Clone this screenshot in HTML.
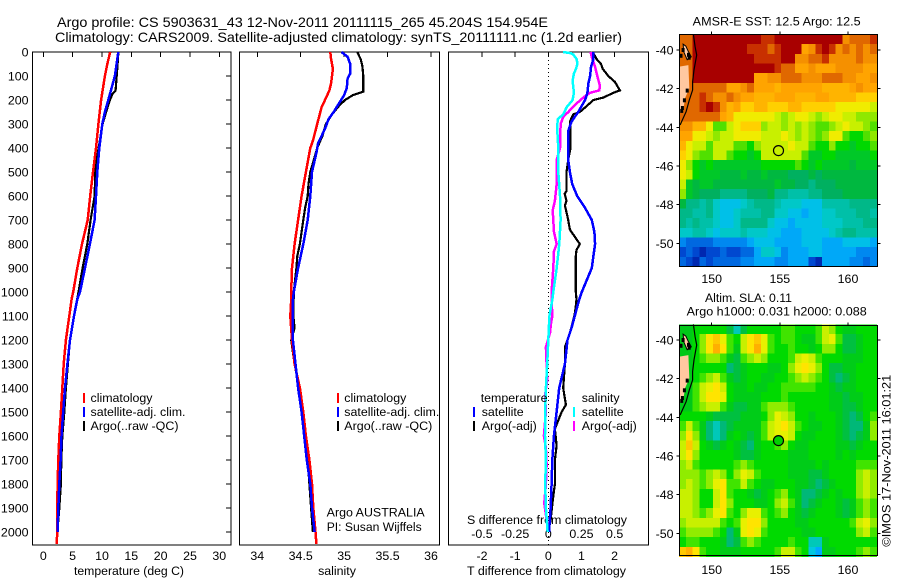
<!DOCTYPE html>
<html>
<head>
<meta charset="utf-8">
<title>Argo profile chart</title>
<style>
html,body{margin:0;padding:0;background:#fff;width:900px;height:580px;overflow:hidden}
svg{display:block}
text{font-family:"Liberation Sans",sans-serif;font-size:12.4px;fill:#000}
.ttl{font-size:14px}
.crisp{shape-rendering:crispEdges}
</style>
</head>
<body>
<svg id="chart" width="900" height="580" viewBox="0 0 900 580" xmlns="http://www.w3.org/2000/svg">
  <text class="ttl" x="57" y="27" textLength="491" lengthAdjust="spacingAndGlyphs">Argo profile: CS 5903631_43 12-Nov-2011 20111115_265 45.204S 154.954E</text>
  <text class="ttl" x="55" y="42" textLength="567" lengthAdjust="spacingAndGlyphs">Climatology: CARS2009. Satellite-adjusted climatology: synTS_20111111.nc (1.2d earlier)</text>
  <text x="74" y="575" textLength="110" lengthAdjust="spacingAndGlyphs">temperature (deg C)</text>
  <text x="337" y="575" text-anchor="middle">salinity</text>
  <text x="467" y="575" textLength="159" lengthAdjust="spacingAndGlyphs">T difference from climatology</text>
  <text x="467" y="524" textLength="160" lengthAdjust="spacingAndGlyphs">S difference from climatology</text>
  <text x="692.7" y="25.5" textLength="168" lengthAdjust="spacingAndGlyphs">AMSR-E SST: 12.5 Argo: 12.5</text>
  <text x="705" y="302" textLength="87" lengthAdjust="spacingAndGlyphs">Altim. SLA: 0.11</text>
  <text x="686.7" y="315.5" textLength="180" lengthAdjust="spacingAndGlyphs">Argo h1000: 0.031 h2000: 0.088</text>
  <text transform="translate(890.5 546.7) rotate(-90)" textLength="172" lengthAdjust="spacingAndGlyphs">©IMOS 17-Nov-2011 16:01:21</text>

  <g id="panels"></g>
  <g id="maps"></g>

  <g>
    <rect class="crisp" x="83" y="393" width="2" height="10" fill="#ff0000"/>
    <text x="90.5" y="402">climatology</text>
    <rect class="crisp" x="83" y="407" width="2" height="10" fill="#0000ff"/>
    <text x="90.5" y="416" textLength="95" lengthAdjust="spacingAndGlyphs">satellite-adj. clim.</text>
    <rect class="crisp" x="83" y="421" width="2" height="10" fill="#000"/>
    <text x="90.5" y="430" textLength="88" lengthAdjust="spacingAndGlyphs">Argo(..raw -QC)</text>
  </g>
  <g>
    <rect class="crisp" x="337" y="393" width="2" height="10" fill="#ff0000"/>
    <text x="344.3" y="402">climatology</text>
    <rect class="crisp" x="337" y="407" width="2" height="10" fill="#0000ff"/>
    <text x="344.3" y="416" textLength="95" lengthAdjust="spacingAndGlyphs">satellite-adj. clim.</text>
    <rect class="crisp" x="337" y="421" width="2" height="10" fill="#000"/>
    <text x="344.3" y="430" textLength="88" lengthAdjust="spacingAndGlyphs">Argo(..raw -QC)</text>
    <text x="326.7" y="516.7" textLength="98" lengthAdjust="spacingAndGlyphs">Argo AUSTRALIA</text>
    <text x="326.7" y="531" textLength="95" lengthAdjust="spacingAndGlyphs">PI: Susan Wijffels</text>
  </g>
  <g>
    <text x="480.7" y="402">temperature</text>
    <rect class="crisp" x="473" y="407" width="2" height="10" fill="#0000ff"/>
    <text x="481.7" y="416">satellite</text>
    <rect class="crisp" x="473" y="421" width="2" height="10" fill="#000"/>
    <text x="481.7" y="430">Argo(-adj)</text>
    <text x="581.7" y="402">salinity</text>
    <rect class="crisp" x="573" y="407" width="2" height="10" fill="#00ffff"/>
    <text x="581.7" y="416">satellite</text>
    <rect class="crisp" x="573" y="421" width="2" height="10" fill="#ff00ff"/>
    <text x="581.7" y="430">Argo(-adj)</text>
  </g>
</svg>
<script>
/* ---------- tick labels ---------- */
const depthTicks = [0,100,200,300,400,500,600,700,800,900,1000,1100,1200,1300,1400,1500,1600,1700,1800,1900,2000];
const tempTicks = [0,5,10,15,20,25,30];
const salTicks = [34,34.5,35,35.5,36];
const tDiffTicks = [-2,-1,0,1,2];
const sDiffTicks = [-0.5,-0.25,0,0.25,0.5];
const lonTicks = [150,155,160];
const latTicks = [-40,-42,-44,-46,-48,-50];

/* ---------- temperature panel (deg C) ---------- */
const tClimDepth = [0,50,100,200,300,400,500,600,700,800,900,1000,1030,1100,1200,1300,1400,1500,1600,1700,1800,1900,2000,2050];
const tClimValue = [11.4,10.9,10.5,9.85,9.4,8.98,8.47,8.0,7.56,6.6,5.8,5.1,4.83,4.43,3.86,3.47,3.24,3.0,2.73,2.56,2.44,2.39,2.39,2.27];
const tSatDepth = [0,100,200,250,300,400,500,600,700,800,900,1000,1030,1100,1200,1300,1400,1500,1600,1700,1800,1900,2000];
const tSatValue = [12.78,12.2,11.08,10.5,10.05,9.55,9.2,8.98,8.75,7.95,7.1,6.25,5.8,5.23,4.55,4.1,3.7,3.4,3.1,2.95,2.73,2.56,2.44];
const tArgoDepth = [0,50,160,175,200,250,300,400,450,500,600,650,700,800,900,1000,1100,1200,1300,1400,1500,1600,1700,1800,1900,2000];
const tArgoValue = [12.8,12.67,12.33,11.8,11.36,10.7,10.1,9.43,9.09,8.86,8.75,8.4,8.07,7.5,6.7,6.0,5.23,4.55,4.2,3.86,3.58,3.24,3.07,3.0,2.73,2.39];

/* ---------- salinity panel ---------- */
const sClimDepth = [0,30,70,130,160,200,230,300,370,400,500,600,700,800,900,1000,1033,1100,1200,1300,1400,1500,1600,1700,1800,1900,2000,2050];
const sClimValue = [34.84,34.85,34.87,34.85,34.83,34.78,34.74,34.69,34.64,34.61,34.56,34.51,34.47,34.43,34.40,34.39,34.39,34.38,34.40,34.43,34.49,34.53,34.56,34.60,34.63,34.645,34.67,34.68];
const sSatDepth = [0,20,50,90,110,150,180,220,250,280,320,380,420,500,600,700,800,900,1000,1033,1100,1200,1300,1400,1500,1600,1700,1800,1900,2000];
const sSatValue = [34.97,35.04,35.07,35.07,35.04,35.03,35.0,34.93,34.88,34.82,34.78,34.70,34.68,34.63,34.61,34.58,34.53,34.47,34.42,34.41,34.41,34.41,34.44,34.47,34.51,34.54,34.57,34.61,34.63,34.66];
const sArgoDepth = [0,30,60,100,165,180,200,225,260,300,350,400,450,500,550,600,650,700,800,850,900,1000,1100,1150,1200,1300,1400,1500,1600,1700,1800,1900,2000];
const sArgoValue = [35.15,35.19,35.21,35.22,35.22,35.1,35.01,34.94,34.86,34.79,34.75,34.69,34.65,34.61,34.59,34.58,34.55,34.53,34.49,34.46,34.45,34.42,34.415,34.43,34.39,34.43,34.48,34.51,34.55,34.58,34.60,34.62,34.64];

/* ---------- difference panel ---------- */
const dtArgoDepth = [0,30,50,70,100,125,160,170,190,200,225,250,260,290,330,400,450,500,580,590,620,640,680,700,740,780,800,825,850,900,1000,1030,1060,1090,1130,1170,1230,1300,1400,1470,1500,1570,1640,1700,1800,1850,1950,2000];
const dtArgoValue = [1.34,1.46,1.59,1.64,1.81,2.01,2.16,1.96,1.66,1.36,1.16,.95,.75,.65,.67,.67,.60,.55,.55,.49,.55,.50,.57,.60,.65,.85,.95,.85,.83,.83,.83,.85,.83,.80,.73,.65,.50,.50,.45,.53,.40,.20,.25,.20,.20,.15,.07,0];
const dtSatDepth = [0,30,60,100,130,170,200,250,290,330,400,450,500,550,600,650,700,750,800,850,900,950,1000,1033,1100,1150,1200,1300,1400,1500,1600,1700,1800,1900,2000];
const dtSatValue = [1.36,1.36,1.29,1.26,1.21,1.18,1.11,.90,.70,.60,.60,.60,.65,.72,.87,1.11,1.31,1.39,1.41,1.36,1.31,1.16,1.01,.93,.80,.70,.58,.50,.33,.25,.17,.12,.10,.07,.02];
const dsArgoDepth = [0,30,60,100,140,160,170,190,220,250,270,300,400,450,550,620,660,750,800,830,900,1000,1033,1100,1130,1170,1230,1300,1370,1430,1500,1600,1650,1720,1800,1880,2000];
const dsArgoValue = [.319,.332,.352,.369,.389,.384,.314,.264,.201,.151,.113,.093,.088,.063,.063,.05,.033,.043,.063,.043,.038,.025,.025,.03,.02,.013,-.018,-.013,-.008,-.025,-.018,-.033,-.018,-.013,-.018,-.03,0];
const dsSatDepth = [0,5,10,30,50,70,90,120,170,200,230,260,280,330,400,500,600,700,800,900,1000,1033,1100,1200,1300,1400,1500,1600,1700,1800,1900,2000];
const dsSatValue = [.11,.17,.188,.214,.219,.209,.193,.183,.193,.183,.138,.113,.07,.068,.075,.075,.088,.093,.083,.063,.038,.03,.008,0,-.008,-.018,-.023,-.025,-.018,-.023,-.018,-.005];

/* ---------- map heat-level grids (0.5 degree cells, north to south; letters are levels) ---------- */
const sstLevels = {A:'#a80000',B:'#c83000',C:'#e06800',D:'#f59000',E:'#ffa400',F:'#ffb400',G:'#ffd000',H:'#f0ec00',I:'#c8f000',J:'#90e800',K:'#50e000',L:'#00d800',M:'#00c828',N:'#00b840',O:'#00b060',P:'#00b888',Q:'#00c0a8',R:'#00c8c8',S:'#00c0e8',T:'#00a8f8',U:'#0088f0',V:'#0068e0',W:'#0048d0',X:'#0028b0',Z:'#ffc8a0'};
const sstGrid = [
"CCAAAAAAAAAABBAAAAAAAAAADCCCB",
"CCAAAAAAAABBBCBAAAEDBABDCDCDC",
"CCAAAAAAAAABBBBAADDCCBDDDDCDD",
"CCAAAAAAAAAAAABCCEEDEEEDDDDEE",
"CCAAAAAAAAAEEDDCCCDDDCCCDDEED",
"CCCCCCCEEDCEEEFEEEEEEFFFFEDEE",
"CCCBCDDCDEEFFFEEEFFFEEFFFFGGG",
"CCCBABDFEGGFFGGGFFGGGGGHHHHHI",
"CCCCCCEFHHHHHHIJIHHIJIHHIIJJJ",
"DDFFHKKIHGGGJIIJIJIJKKJIHIIJK",
"EEHHIJIIHHHHIIIHIJIJKJHHKLLKJ",
"FHIIKIIIKKLJIIIIHIIKLLJLLMLLK",
"GHJKKIIKLLMLIIIIIIKMMLLMMMMML",
"HJLMLMMMMMMMLLLLLKLMLMMMMNMMM",
"HILMMMNNNMNNMNNNOOONONNNNNNNN",
"IMNMMNNNNNNNNNMNNOOPOOONNNNNN",
"JMNOOOPPPPOOONPPQQQPPOOONNNNN",
"NPPQPRSSSRQPPPQRRRSSSQQQQPPPP",
"PPQQPRSSRQQQPPRRSSTSSRRQQQPPQ",
"PQPQQRSSRPPPPRSSTSSSSRRRQQQPP",
"RRQQRSRRRQRRRSSTTTSSSSRQPPQQQ",
"UVVVVUUUUUTSSSTTTTSSSTTTSSSST",
"WVWXWWVWWVVTRRSUTTTSSTTTTTUUU",
"VWXVWVVVVUUTTTUUTTTWXTTTTUUVU"
];
const slaLevels = {a:'#00b878',b:'#00c040',c:'#00cc18',d:'#00da00',e:'#40e400',f:'#90ec00',g:'#c8f000',h:'#e8f000',i:'#ffe400',j:'#ffc800',k:'#ffb000',m:'#00c8b8',n:'#00c8e0',o:'#00a8ff',z:'#00c818'};
const slaGrid = [
"zzdddddbmbdddddeedddegfdccddd",
"zzdfijhedgijhedeedcceghebbcdd",
"zzdfikiecgikheddeddcdffdbbcdd",
"zzdeffecbefgfdddeghgedddcccdd",
"zzdddddabcdddccdfhihfdbbccddd",
"zzdefgecbcddccddefgfedbabcddd",
"zzeghigdccdccddeeeeeddcbccddd",
"zzegiihdccccdddeddddddccbccdd",
"zzefggecbbccefffedddddccbbcdd",
"ddddcbbbbcccdfhgfddcdddcbabde",
"egecamabccc"+"ceghigedccddcbaacf",
"fifcamacdcb"+"ceghhgdccdddcbabcf",
"gjgdcbcdcba"+"cddefdccddddccbcdd",
"gifdddddcbb"+"cddddcccddddcdcddd",
"fgedddddefe"+"dddddccccdcddddeee",
"fffefgfdfhg"+"edddd cccbbcddddfgf".replace(' ',''),
"fgfefhieege"+"dccdddccbabcdddfgf",
"ggfddgieddc"+"bcdefdcaabcdcddfgf",
"ggfddgifddd"+"ccdfgecabcddcbcefe",
"ggfefhiedfh"+"hedefdcbcdddcbcefe",
"fgggggedehi"+"ifddddccddddddeghf",
"effffedachi"+"hedddddccddddddfge",
"deedddcabef"+"eddddeddmmcddddddd",
"jkieddcccdd"+"dddeggednoccdddefe"
];

/* ---------- geography (lon, lat) ---------- */
const coastLon = [148.66,148.78,148.9,148.7,148.6,148.6,148.36,148.12,147.68];
const coastLat = [-39.19,-39.83,-40.26,-41.03,-41.64,-42.07,-42.59,-43.19,-43.88];
const landLon = [147.63,148.29,148.36,148.04,147.92,147.63];
const landLat = [-40.86,-40.78,-41.98,-42.5,-43.1,-43.28];
const islandLon = [147.9,148.1,148.3,148.5,148.2,147.95];
const islandLat = [-39.7,-39.8,-40.1,-40.35,-40.5,-40.1];
const rockLon = [147.9,147.75,148.3,148.35,148.0,147.85,148.2,147.8];
const rockLat = [-40.0,-40.3,-40.25,-40.4,-42.6,-43.0,-42.1,-43.15];
const floatLon = 154.9;
const floatLat = -45.204;

/* ---------- scales ---------- */
const SVG_NS = 'http://www.w3.org/2000/svg';
const depthY = d => 52 + 0.24 * d;
const tempX = v => 43.3 + 5.867 * v;
const salX = v => 257.3 + 86.85 * (v - 34);
const tDiffX = v => 548.3 + 33.17 * v;
const sDiffX = v => 548.3 + 132.7 * v;
const lonX = v => 711.7 + 13.63 * (v - 150);
const latY = (v, top) => top + 19.33 * (-40 - v);

function svgEl(tag, parent) {
  const el = document.createElementNS(SVG_NS, tag);
  parent.appendChild(el);
  return el;
}
function tickLine(parent, x1, y1, x2, y2) {
  const el = svgEl('line', parent);
  
  
  el.setAttribute('x1', x1); el.setAttribute('y1', y1);
  el.setAttribute('x2', x2); el.setAttribute('y2', y2);
  el.setAttribute('stroke', '#000');
  el.setAttribute('class', 'crisp');
}
function tickLabel(parent, str, x, y, anchor) {
  const el = svgEl('text', parent);
  
  
  el.setAttribute('x', x); el.setAttribute('y', y);
  el.setAttribute('text-anchor', anchor);
  el.textContent = str;
}
function frame(parent, x, y, w, h, name) {
  const el = svgEl('rect', parent);
  
  
  el.setAttribute('x', x); el.setAttribute('y', y);
  el.setAttribute('width', w); el.setAttribute('height', h);
  el.setAttribute('fill', 'none');
  el.setAttribute('stroke', '#000');
  el.setAttribute('class', 'crisp');
}
function profile(parent, name, depths, values, xScale, color, width) {
  const el = svgEl('polyline', parent);
  
  
  el.setAttribute('points', depths.map((d, i) => xScale(values[i]).toFixed(1) + ',' + depthY(d).toFixed(1)).join(' '));
  el.setAttribute('fill', 'none');
  el.setAttribute('stroke', color);
  el.setAttribute('stroke-width', width);
  el.setAttribute('class', 'crisp');
}

const panels = document.getElementById('panels');
const L = [32.5, 239.5, 448.5], R = [231, 439.5, 648.5], T = 52, B = 545;

/* temperature panel */
depthTicks.forEach(d => {
  tickLabel(panels, String(d), 28.5, depthY(d) + 4.5, 'end');
  tickLine(panels, R[0] - 5, depthY(d), R[0], depthY(d));
});
tempTicks.forEach(v => {
  tickLine(panels, tempX(v), T, tempX(v), T + 5);
  tickLabel(panels, String(v), tempX(v), 560, 'middle');
});
frame(panels, L[0], T, R[0] - L[0], B - T, 'temperature-axes');
profile(panels, 'temperature-argo-line', tArgoDepth, tArgoValue, tempX, '#000', 2.2);
profile(panels, 'temperature-climatology-line', tClimDepth, tClimValue, tempX, '#ff0000', 2.5);
profile(panels, 'temperature-satellite-line', tSatDepth, tSatValue, tempX, '#0000ff', 2.5);

/* salinity panel */
salTicks.forEach(v => {
  tickLine(panels, salX(v), T, salX(v), T + 5);
  tickLabel(panels, String(v), salX(v), 560, 'middle');
});
frame(panels, L[1], T, R[1] - L[1], B - T, 'salinity-axes');
profile(panels, 'salinity-argo-line', sArgoDepth, sArgoValue, salX, '#000', 2.2);
profile(panels, 'salinity-climatology-line', sClimDepth, sClimValue, salX, '#ff0000', 2.5);
profile(panels, 'salinity-satellite-line', sSatDepth, sSatValue, salX, '#0000ff', 2.5);

/* difference panel */
tDiffTicks.forEach(v => {
  tickLine(panels, tDiffX(v), T, tDiffX(v), T + 5);
  tickLabel(panels, String(v), tDiffX(v), 560, 'middle');
});
sDiffTicks.forEach(v => {
  tickLabel(panels, String(v), sDiffX(v), 538, 'middle');
});
frame(panels, L[2], T, R[2] - L[2], B - T, 'difference-axes');
const zeroLine = svgEl('line', panels);


zeroLine.setAttribute('x1', tDiffX(0)); zeroLine.setAttribute('x2', tDiffX(0));
zeroLine.setAttribute('y1', T); zeroLine.setAttribute('y2', B);
zeroLine.setAttribute('stroke', '#000');
zeroLine.setAttribute('stroke-dasharray', '1 3');
zeroLine.setAttribute('class', 'crisp');
profile(panels, 'difference-t-argo-line', dtArgoDepth, dtArgoValue, tDiffX, '#000', 2.2);
profile(panels, 'difference-s-argo-line', dsArgoDepth, dsArgoValue, sDiffX, '#ff00ff', 2.5);
profile(panels, 'difference-t-satellite-line', dtSatDepth, dtSatValue, tDiffX, '#0000ff', 2.5);
profile(panels, 'difference-s-satellite-line', dsSatDepth, dsSatValue, sDiffX, '#00ffff', 2.5);

/* maps */
const maps = document.getElementById('maps');
function drawMap(prefix, grid, levels, top, fTop, fBottom, lonLabelY, markerFill) {
  const g = svgEl('g', maps);
  
  
  const fLeft = 679.5, fRight = 877.5;
  const lon0 = 147.6, lat0 = -39.2, step = 0.5;
  grid.forEach((row, r) => {
    for (let c = 0; c < 29; c++) {
      const code = row[c] || row[row.length - 1];
      const cell = svgEl('rect', g);
      
      
      const x0 = lonX(lon0 + c * step), x1 = lonX(lon0 + (c + 1) * step);
      const y0 = latY(lat0 - r * step, top), y1 = latY(lat0 - (r + 1) * step, top);
      cell.setAttribute('x', x0.toFixed(1));
      cell.setAttribute('y', y0.toFixed(1));
      cell.setAttribute('width', (x1 - x0 + 0.3).toFixed(1));
      cell.setAttribute('height', (y1 - y0 + 0.3).toFixed(1));
      cell.setAttribute('fill', levels[code] || '#fff');
      cell.setAttribute('class', 'crisp');
    }
  });
  const land = svgEl('polygon', g);
  
  
  land.setAttribute('points', landLon.map((v, i) => lonX(v).toFixed(1) + ',' + latY(landLat[i], top).toFixed(1)).join(' '));
  land.setAttribute('fill', '#ffc8a0');
  const island = svgEl('polygon', g);
  
  
  island.setAttribute('points', islandLon.map((v, i) => lonX(v).toFixed(1) + ',' + latY(islandLat[i], top).toFixed(1)).join(' '));
  island.setAttribute('fill', '#ffc8a0');
  island.setAttribute('stroke', '#000');
  rockLon.forEach((v, i) => {
    const rock = svgEl('rect', g);
    
    
    rock.setAttribute('x', (lonX(v) - 1.5).toFixed(1));
    rock.setAttribute('y', (latY(rockLat[i], top) - 2).toFixed(1));
    rock.setAttribute('width', 3);
    rock.setAttribute('height', 4);
    rock.setAttribute('fill', '#000');
  });
  const coast = svgEl('polyline', g);
  
  
  coast.setAttribute('points', coastLon.map((v, i) => lonX(v).toFixed(1) + ',' + latY(coastLat[i], top).toFixed(1)).join(' '));
  coast.setAttribute('fill', 'none');
  coast.setAttribute('stroke', '#000');
  coast.setAttribute('stroke-width', '1.2');
  const marker = svgEl('circle', g);
  
  
  marker.setAttribute('cx', lonX(floatLon).toFixed(1));
  marker.setAttribute('cy', latY(floatLat, top).toFixed(1));
  marker.setAttribute('r', 5);
  marker.setAttribute('fill', markerFill);
  marker.setAttribute('stroke', '#000');
  marker.setAttribute('stroke-width', '1.2');
  frame(g, fLeft, fTop, fRight - fLeft, fBottom - fTop, prefix + '-map-frame');
  latTicks.forEach(v => {
    const y = latY(v, top);
    tickLine(g, fLeft - 3, y, fLeft, y);
    tickLine(g, fRight, y, fRight + 3, y);
    tickLabel(g, String(v), 673.5, y + 4.5, 'end');
  });
  lonTicks.forEach(v => {
    tickLine(g, lonX(v), fTop - 3, lonX(v), fTop);
    tickLabel(g, String(v), lonX(v), lonLabelY, 'middle');
  });
}
drawMap('sst', sstGrid, sstLevels, 50, 34.5, 266.5, 283, '#c8f000');
drawMap('sla', slaGrid, slaLevels, 340, 325.5, 555.5, 574, '#00d000');
</script>
</body>
</html>
